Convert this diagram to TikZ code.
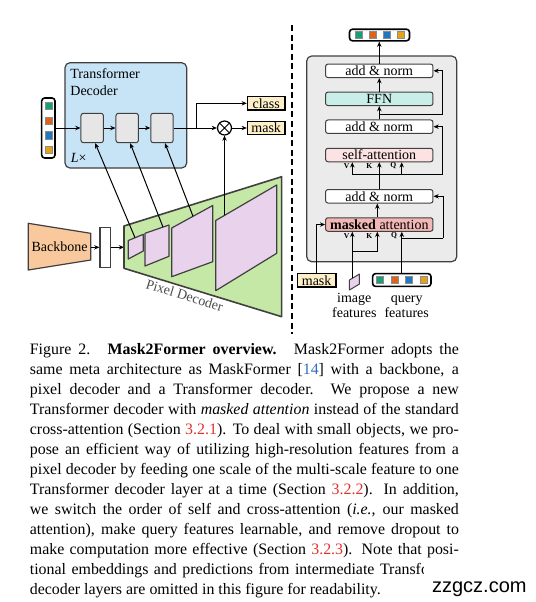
\documentclass[tikz,border=0pt]{standalone}
\usepackage{fontspec}
\setmainfont{Liberation Serif}
\newfontfamily\wmfont{Liberation Sans}
\usetikzlibrary{arrows.meta,calc}
\definecolor{tdblue}{HTML}{C7E4F6}
\definecolor{innergray}{HTML}{E6E6E6}
\definecolor{outyellow}{HTML}{FDEFC8}
\definecolor{bbone}{HTML}{F9C89C}
\definecolor{pdgreen}{HTML}{C6E8A6}
\definecolor{planecol}{HTML}{E8D2EC}
\definecolor{panelcol}{HTML}{EBEBEB}
\definecolor{ffncol}{HTML}{C9EDE7}
\definecolor{sacol}{HTML}{FCE2E2}
\definecolor{macol}{HTML}{F3B8B5}
\definecolor{qgreen}{HTML}{1B9E77}
\definecolor{qorange}{HTML}{D9641A}
\definecolor{qblue}{HTML}{1F78C0}
\definecolor{qyellow}{HTML}{E3A21A}
\definecolor{linkblue}{HTML}{2F6FBF}
\definecolor{linkred}{HTML}{E0322C}
\definecolor{edgecol}{HTML}{404040}
\newcommand{\capline}[1]{\makebox[214.5pt][s]{#1}}
\begin{document}
\begin{tikzpicture}[x=0.5pt,y=-0.5pt,
  dfont/.style={font=\fontsize{7}{8.4}\selectfont},
  capfont/.style={font=\fontsize{7.95}{10}\selectfont},
  vkq/.style={font=\fontsize{3.8}{4}\selectfont\bfseries, inner sep=0},
  arr/.style={-{Stealth[length=2.6pt,width=2.2pt]}, line width=0.5pt},
  ln/.style={line width=0.5pt},
  tbox/.style={draw=edgecol, line width=0.5pt, rounded corners=1.2pt, minimum width=53.7pt, minimum height=6.75pt, inner sep=0pt, dfont},
  ibox/.style={draw=edgecol, fill=innergray, line width=0.5pt, rounded corners=1.2pt, minimum width=11.2pt, minimum height=14.7pt, inner sep=0pt},
  obox/.style={draw=black, fill=outyellow, line width=0.6pt, minimum width=18.8pt, minimum height=6.7pt, inner sep=0pt, dfont},
  stack/.style={draw=black, fill=white, line width=0.8pt, rounded corners=1.5pt, inner sep=0pt},
  sq/.style={minimum size=3.6pt, inner sep=0pt, draw=black!45, line width=0.2pt},
  planestyle/.style={draw=edgecol, fill=planecol, line width=0.6pt, line join=round},
]
\useasboundingbox (0,0) rectangle (536,602);

% ---------------- left: Transformer decoder ----------------
\node[draw=edgecol, fill=tdblue, line width=0.6pt, rounded corners=2.5pt, minimum width=60.85pt, minimum height=52.65pt, inner sep=0] (td) at (125.85,115.35) {};
\node[dfont, anchor=base west, inner sep=0] (tdt1) at (70,78) {Transformer};
\node[dfont, anchor=base west, inner sep=0] (tdt2) at (70,95) {Decoder};
\node[dfont, anchor=base west, inner sep=0] (lx) at (70.5,162) {\textit{L}×};

\node[ibox] (b1) at (92.2,128) {};
\node[ibox] (b2) at (127.2,128) {};
\node[ibox] (b3) at (162,128) {};

\node[stack, minimum width=6.65pt, minimum height=30pt] (qs) at (48.35,128) {};
\node[sq, fill=qgreen]  (qs1) at (48.35,106) {};
\node[sq, fill=qorange] (qs2) at (48.35,120.6) {};
\node[sq, fill=qblue]   (qs3) at (48.35,135.2) {};
\node[sq, fill=qyellow] (qs4) at (48.35,149.8) {};

\node[circle, draw=black, fill=white, line width=0.6pt, minimum size=7pt, inner sep=0] (ot) at (224.5,128) {};
\draw[line width=0.5pt] (ot.north west) -- (ot.south east) (ot.north east) -- (ot.south west);

\node[obox] (cls) at (266.2,103.3) {class};
\node[obox] (msk) at (266.2,128) {mask};

\draw[arr] (qs.east) -- (b1.west);
\draw[arr] (b1.east) -- (b2.west);
\draw[arr] (b2.east) -- (b3.west);
\draw[arr] (b3.east) -- (ot.west);
\coordinate (br) at (196.7,128);
\draw[arr] (br) |- (cls.west);
\draw[arr] (ot.east) -- (msk.west);

% ---------------- backbone & pixel decoder ----------------
\draw[draw=edgecol, fill=bbone, line width=0.6pt] (28.3,223.3) -- (90.7,233.3) -- (90.7,260) -- (28.3,270) -- cycle;
\node[dfont] (bb) at (59.5,246.7) {Backbone};
\coordinate (bbR) at (90.7,247.3);
\node[draw=edgecol, fill=white, line width=0.6pt, minimum width=5.35pt, minimum height=20pt, inner sep=0] (fr) at (105.35,247.3) {};
\coordinate (pdL) at (124,247.3);
\draw[arr] (bbR) -- (fr.west);
\draw[arr] (fr.east) -- (pdL);

\draw[draw=edgecol, fill=pdgreen, line width=0.8pt, line join=round] (124,226) -- (281.7,176.7) -- (281.7,316.7) -- (124,268.3) -- cycle;
\path (124,268.3) -- (281.7,316.7) node[pos=0.40, sloped, below, dfont, text=black!70, inner sep=1.5pt] (pdl) {Pixel Decoder};

\draw[planestyle] (128.3,240.5) -- (143.3,234.3) -- (143.3,251) -- (128.3,259) -- cycle;
\draw[planestyle] (145,233.3) -- (169,225) -- (169,256.3) -- (145,266) -- cycle;
\draw[planestyle] (171.7,228) -- (212.7,205.5) -- (212.7,261.7) -- (171.7,276.7) -- cycle;
\draw[planestyle] (215.7,220.5) -- (276.7,185) -- (276.7,253.3) -- (215.7,290.7) -- cycle;

\coordinate (p1t) at (135,237.7);
\coordinate (p2t) at (163,227.1);
\coordinate (p3t) at (193,216.3);
\coordinate (p4t) at (224.5,215.4);
\draw[arr] (p1t) -- ($(b1.south)+(3,0)$);
\draw[arr] (p2t) -- ($(b2.south)+(3,0)$);
\draw[arr] (p3t) -- ($(b3.south)+(3,0)$);
\draw[arr] (p4t) -- (ot.south);

% ---------------- separator ----------------
\coordinate (dtop) at (292,25);
\coordinate (dbot) at (292,334);
\draw[line width=0.6pt, dash pattern=on 3pt off 1.8pt] (dtop) -- (dbot);

% ---------------- right: decoder layer ----------------
\node[draw=edgecol, fill=panelcol, rounded corners=2.5pt, line width=0.6pt, minimum width=75pt, minimum height=102.85pt, inner sep=0] (pnl) at (381.7,158.85) {};

\node[tbox, fill=white]  (an1) at (379.3,70.8) {add \& norm};
\node[tbox, fill=ffncol] (ffn) at (379.3,98.8) {FFN};
\node[tbox, fill=white]  (an2) at (379.3,126.7) {add \& norm};
\node[tbox, fill=sacol]  (sa)  at (379.3,155) {self-attention};
\node[tbox, fill=white]  (an3) at (379.3,196.3) {add \& norm};
\node[tbox, fill=macol]  (ma)  at (379.3,224.5) {\textbf{masked} attention};

\node[stack, minimum width=30pt, minimum height=5.8pt] (os) at (379.5,35) {};
\node[sq, fill=qgreen]  (os1) at (358.65,35) {};
\node[sq, fill=qorange] (os2) at (372.55,35) {};
\node[sq, fill=qblue]   (os3) at (386.45,35) {};
\node[sq, fill=qyellow] (os4) at (400.35,35) {};

\draw[arr] (an1.north) -- (an1.north |- os.south);
\draw[arr] (ffn.north) -- (an1.south);
\draw[arr] (an2.north) -- (ffn.south);
\coordinate (r1) at (379.3,114);
\coordinate (r1c) at (443,114);
\draw[ln] (r1) -- (r1c);
\draw[arr] (r1c) |- (an1.east);

\coordinate (s1) at (379.3,174.7);
\coordinate (s1v) at (352.3,174.7);
\coordinate (s1q) at (401.7,174.7);
\coordinate (s1r) at (443,174.7);
\draw[ln] (an3.north) -- (s1);
\draw[ln] (s1v) -- (s1r);
\draw[arr] (s1) -- (sa.south);
\draw[arr] (s1v) -- (s1v |- sa.south);
\draw[arr] (s1q) -- (s1q |- sa.south);
\draw[arr] (s1r) |- (an2.east);
\node[vkq] (v1) at (346.7,165.8) {V};
\node[vkq] (k1) at (369.3,165.8) {K};
\node[vkq] (q1) at (393.3,165.8) {Q};

\coordinate (maK) at (377.3,224.5);
\draw[arr] (maK |- ma.north) -- (maK |- an3.south);

% inputs
\node[obox, minimum width=19.35pt, minimum height=6.65pt] (m2) at (316.65,280.3) {mask};
\draw[arr] (m2.north) |- (ma.west);

\draw[draw=edgecol, fill=planecol, line width=0.5pt, line join=round] (349.5,280) -- (359.5,274) -- (359.5,284) -- (349.5,290) -- cycle;
\coordinate (imf) at (352.3,278.3);
\coordinate (imb) at (352.3,251.7);
\coordinate (imk) at (377.3,251.7);
\draw[arr] (imf) -- (imf |- ma.south);
\draw[ln] (imb) -- (imk);
\draw[arr] (imk) -- (imk |- ma.south);

\node[stack, minimum width=29.2pt, minimum height=6.4pt] (qsr) at (401.8,280) {};
\node[sq, fill=qgreen]  (qr1) at (380.05,280) {};
\node[sq, fill=qorange] (qr2) at (394.55,280) {};
\node[sq, fill=qblue]   (qr3) at (409.05,280) {};
\node[sq, fill=qyellow] (qr4) at (423.55,280) {};
\coordinate (qb) at (401.8,238.3);
\coordinate (qbr) at (443.3,238.3);
\draw[arr] (qsr.north) -- (qsr.north |- ma.south);
\draw[ln] (qb) -- (qbr);
\draw[arr] (qbr) |- (an3.east);
\node[vkq] (v2) at (346.7,235.8) {V};
\node[vkq] (k2) at (369.3,235.8) {K};
\node[vkq] (q2) at (394,235.8) {Q};

\node[dfont, anchor=base, inner sep=0] (iml1) at (354.3,302.5) {image};
\node[dfont, anchor=base, inner sep=0] (iml2) at (354.3,317.5) {features};
\node[dfont, anchor=base, inner sep=0] (qrl1) at (406.7,302.5) {query};
\node[dfont, anchor=base, inner sep=0] (qrl2) at (406.7,317.5) {features};

% ---------------- caption ----------------
\begin{scope}[every node/.style={capfont, anchor=base west, inner sep=0}]
\node (c1) at (29.5,354) {\capline{Figure 2.\hspace{0.2em} \textbf{Mask2Former overview.}\hspace{0.2em} Mask2Former adopts the}};
\node (c2) at (29.5,374) {\capline{same meta architecture as MaskFormer [\textcolor{linkblue}{14}] with a backbone, a}};
\node (c3) at (29.5,394) {\capline{pixel decoder and a Transformer decoder. We propose a new}};
\node (c4) at (29.5,414) {\capline{Transformer decoder with \textit{masked attention} instead of the standard}};
\node (c5) at (29.5,434) {\capline{cross-attention (Section \textcolor{linkred}{3.2.1}). To deal with small objects, we pro-}};
\node (c6) at (29.5,454) {\capline{pose an efficient way of utilizing high-resolution features from a}};
\node (c7) at (29.5,474) {\capline{pixel decoder by feeding one scale of the multi-scale feature to one}};
\node (c8) at (29.5,494) {\capline{Transformer decoder layer at a time (Section \textcolor{linkred}{3.2.2}). In addition,}};
\node (c9) at (29.5,514) {\capline{we switch the order of self and cross-attention (\textit{i.e.}, our masked}};
\node (c10) at (29.5,534) {\capline{attention), make query features learnable, and remove dropout to}};
\node (c11) at (29.5,554) {\capline{make computation more effective (Section \textcolor{linkred}{3.2.3}). Note that posi-}};
\node (c13) at (29.5,594) {decoder layers are omitted in this figure for readability.};
\end{scope}
\begin{scope}
\clip (0,556) rectangle (424,582);
\node[capfont, anchor=base west, inner sep=0] (c12) at (29.5,574) {\capline{tional embeddings and predictions from intermediate Transformer}};
\end{scope}
\node[font=\wmfont\fontsize{10}{12}\selectfont, anchor=base west, inner sep=0] (wm) at (431.7,592.5) {zzgcz.com};
\end{tikzpicture}
\end{document}
